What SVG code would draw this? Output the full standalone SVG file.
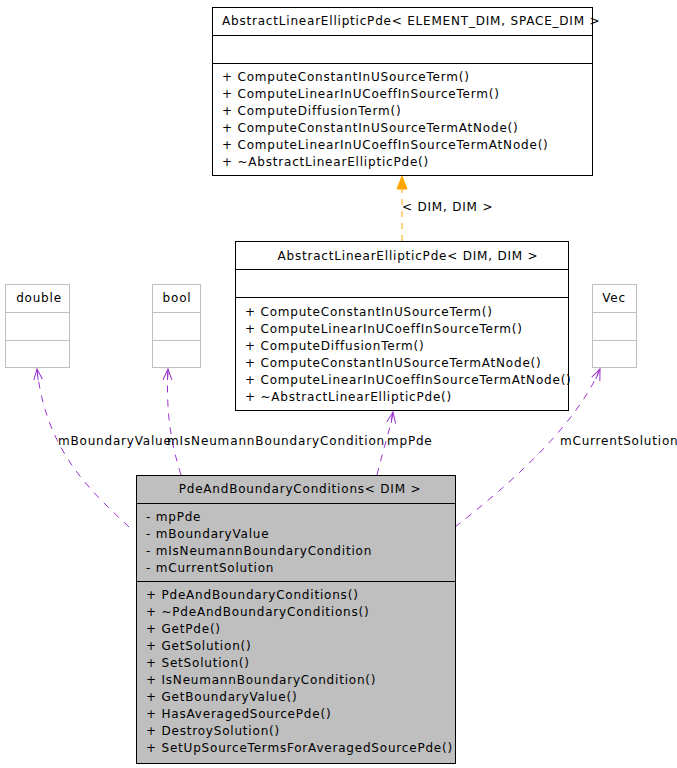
<svg xmlns="http://www.w3.org/2000/svg" width="677" height="768" viewBox="0 0 677 768">
<style>
text{font-family:"DejaVu Sans",sans-serif;font-size:12px;fill:#000;letter-spacing:0.8px}
.c{text-anchor:middle}
.box{fill:#fff;stroke:#000;stroke-width:1}
.gbox{fill:#fff;stroke:#bfbfbf;stroke-width:1}
.sel{fill:#bfbfbf;stroke:#000;stroke-width:1}
.ln{stroke:#000;stroke-width:1}
.gln{stroke:#bfbfbf;stroke-width:1}
.use{fill:none;stroke:#9a32cd;stroke-width:1;stroke-dasharray:7,7}
.inh{fill:none;stroke:#ffa500;stroke-width:1;stroke-dasharray:6,6}
</style>
<defs>
<marker id="open" viewBox="0 0 12 12" refX="11" refY="6" markerWidth="12" markerHeight="12" markerUnits="userSpaceOnUse" orient="auto">
<polyline points="0,1.5 11,6 0,10.5" fill="none" stroke="#9a32cd" stroke-width="1"/>
<line x1="0" y1="6" x2="11" y2="6" stroke="#9a32cd" stroke-width="1"/>
</marker>
</defs>
<g id="connectors">
<path class="inh" d="M402,241 L402,189"/>
<polygon points="402,176 397,189 407,189" fill="#ffa500" stroke="#ffa500"/>
<text x="402" y="211">&lt; DIM, DIM &gt;</text>
<path class="use" d="M129,527 C92,492 46,452 37,369" marker-end="url(#open)"/>
<path class="use" d="M181,475 C170,440 166,410 168,369" marker-end="url(#open)"/>
<path class="use" d="M377,475 C383,450 390,430 393,412" marker-end="url(#open)"/>
<path class="use" d="M455,527 C505,488 575,428 600,369" marker-end="url(#open)"/>
<text x="58" y="445">mBoundaryValue</text>
<text x="167" y="445" textLength="218" lengthAdjust="spacing">mIsNeumannBoundaryCondition</text>
<text x="387" y="445">mpPde</text>
<text x="560" y="445">mCurrentSolution</text>
</g>
<g id="base">
<rect class="box" x="212.5" y="7.5" width="380" height="168"/>
<line class="ln" x1="212.5" y1="35.5" x2="592.5" y2="35.5"/>
<line class="ln" x1="212.5" y1="63.5" x2="592.5" y2="63.5"/>
<text x="222" y="25">AbstractLinearEllipticPde&lt; ELEMENT_DIM, SPACE_DIM &gt;</text>
<text x="222" y="81">+ ComputeConstantInUSourceTerm()</text>
<text x="222" y="98">+ ComputeLinearInUCoeffInSourceTerm()</text>
<text x="222" y="115">+ ComputeDiffusionTerm()</text>
<text x="222" y="132">+ ComputeConstantInUSourceTermAtNode()</text>
<text x="222" y="149">+ ComputeLinearInUCoeffInSourceTermAtNode()</text>
<text x="222" y="166">+ ~AbstractLinearEllipticPde()</text>
</g>
<g id="pde">
<rect class="box" x="235.5" y="241.5" width="333" height="169"/>
<line class="ln" x1="235.5" y1="269.5" x2="568.5" y2="269.5"/>
<line class="ln" x1="235.5" y1="297.5" x2="568.5" y2="297.5"/>
<text class="c" x="408" y="260">AbstractLinearEllipticPde&lt; DIM, DIM &gt;</text>
<text x="245" y="316">+ ComputeConstantInUSourceTerm()</text>
<text x="245" y="333">+ ComputeLinearInUCoeffInSourceTerm()</text>
<text x="245" y="350">+ ComputeDiffusionTerm()</text>
<text x="245" y="367">+ ComputeConstantInUSourceTermAtNode()</text>
<text x="245" y="384">+ ComputeLinearInUCoeffInSourceTermAtNode()</text>
<text x="245" y="401">+ ~AbstractLinearEllipticPde()</text>
</g>
<g id="double">
<rect class="gbox" x="5.5" y="284.5" width="64" height="83"/>
<line class="gln" x1="5.5" y1="312.5" x2="69.5" y2="312.5"/>
<line class="gln" x1="5.5" y1="340.5" x2="69.5" y2="340.5"/>
<text class="c" x="39" y="302">double</text>
</g>
<g id="bool">
<rect class="gbox" x="152.5" y="284.5" width="48" height="83"/>
<line class="gln" x1="152.5" y1="312.5" x2="200.5" y2="312.5"/>
<line class="gln" x1="152.5" y1="340.5" x2="200.5" y2="340.5"/>
<text class="c" x="177" y="302">bool</text>
</g>
<g id="vec">
<rect class="gbox" x="592.5" y="284.5" width="44" height="83"/>
<line class="gln" x1="592.5" y1="312.5" x2="636.5" y2="312.5"/>
<line class="gln" x1="592.5" y1="340.5" x2="636.5" y2="340.5"/>
<text class="c" x="614" y="302">Vec</text>
</g>
<g id="main">
<rect class="sel" x="136.5" y="475.5" width="319" height="288"/>
<line class="ln" x1="136.5" y1="503.5" x2="455.5" y2="503.5"/>
<line class="ln" x1="136.5" y1="581.5" x2="455.5" y2="581.5"/>
<text class="c" x="300" y="493">PdeAndBoundaryConditions&lt; DIM &gt;</text>
<text x="146" y="521">- mpPde</text>
<text x="146" y="538">- mBoundaryValue</text>
<text x="146" y="555">- mIsNeumannBoundaryCondition</text>
<text x="146" y="572">- mCurrentSolution</text>
<text x="146" y="599">+ PdeAndBoundaryConditions()</text>
<text x="146" y="616">+ ~PdeAndBoundaryConditions()</text>
<text x="146" y="633">+ GetPde()</text>
<text x="146" y="650">+ GetSolution()</text>
<text x="146" y="667">+ SetSolution()</text>
<text x="146" y="684">+ IsNeumannBoundaryCondition()</text>
<text x="146" y="701">+ GetBoundaryValue()</text>
<text x="146" y="718">+ HasAveragedSourcePde()</text>
<text x="146" y="735">+ DestroySolution()</text>
<text x="146" y="752">+ SetUpSourceTermsForAveragedSourcePde()</text>
</g>
</svg>
